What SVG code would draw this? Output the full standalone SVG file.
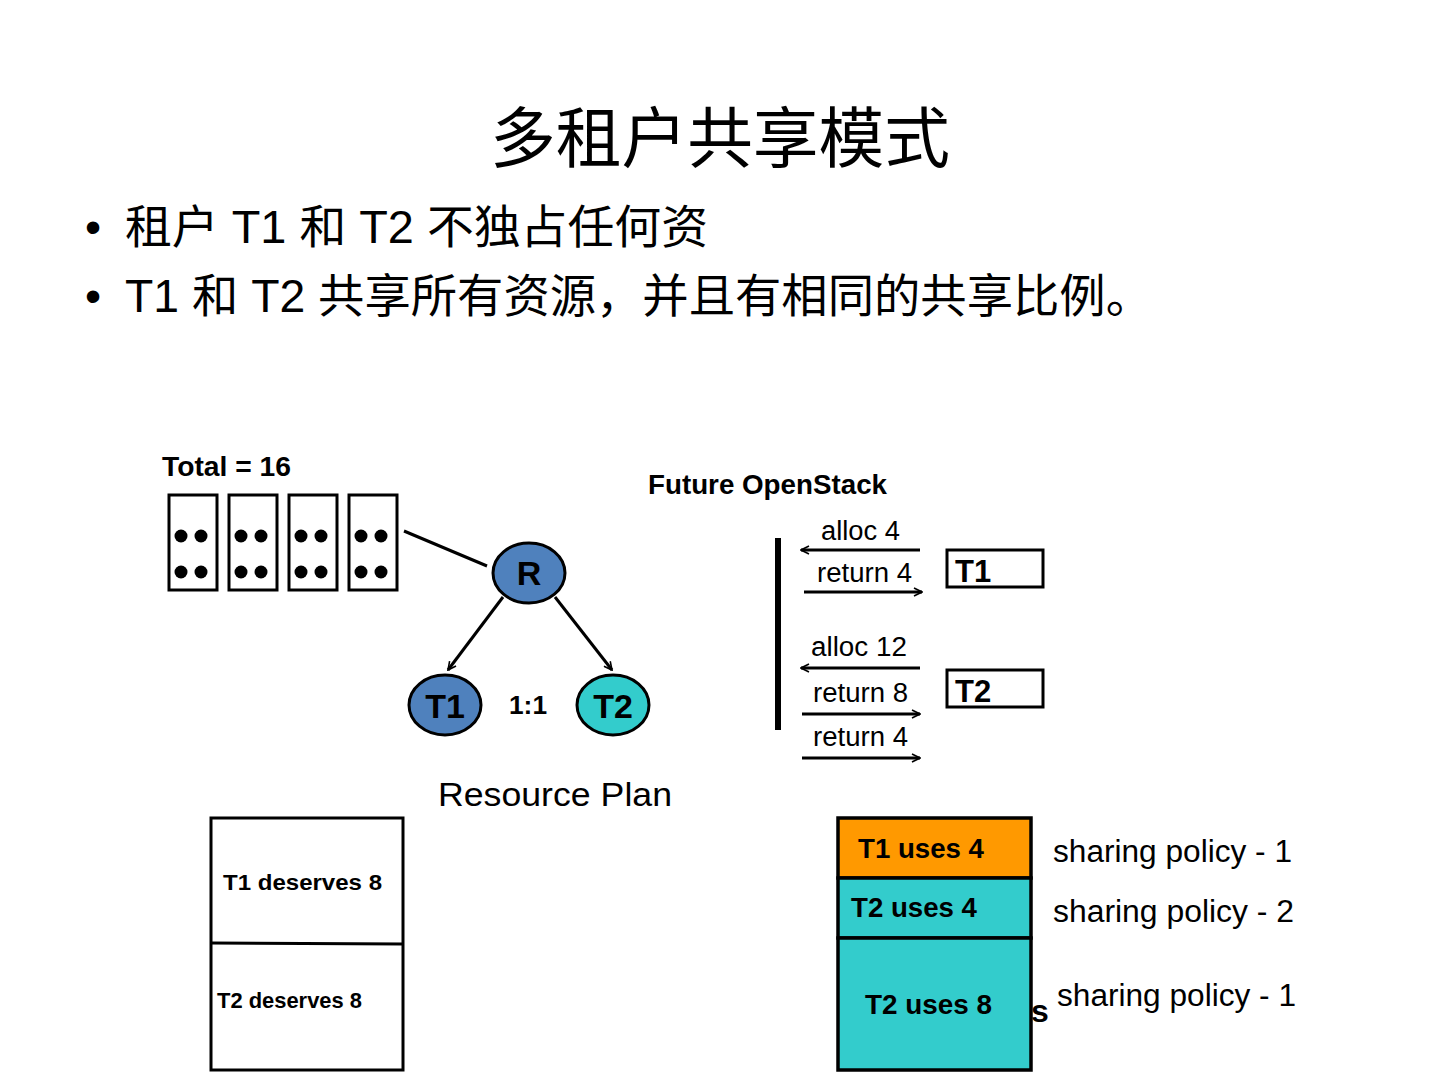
<svg xmlns="http://www.w3.org/2000/svg" width="1440" height="1080" viewBox="0 0 1440 1080">
<defs>
<style>
text{font-family:"Liberation Sans","Noto Sans CJK SC",Arial,sans-serif;fill:#000}
.cjk{font-family:"Liberation Sans","Noto Sans CJK SC",sans-serif}
.b{font-weight:bold}
.box{fill:#fff;stroke:#000;stroke-width:3}
.ln{stroke:#000;stroke-width:3;fill:none}
.dot{fill:#000}
</style>
<marker id="ah" viewBox="0 0 10 10" refX="9" refY="5" markerWidth="10" markerHeight="10" markerUnits="userSpaceOnUse" orient="auto">
<path d="M1,1 L9,5 L1,9" fill="none" stroke="#000" stroke-width="1.6"/>
</marker>
</defs>
<rect width="1440" height="1080" fill="#fff"/>
<text class="cjk" x="490" y="162" font-size="66" textLength="460" lengthAdjust="spacingAndGlyphs">多租户共享模式</text>
<text class="cjk" x="85" y="243" font-size="46">•</text>
<text class="cjk" x="125" y="243" font-size="46" textLength="583" lengthAdjust="spacingAndGlyphs">租户 T1 和 T2 不独占任何资</text>
<text class="cjk" x="85" y="312" font-size="46">•</text>
<text class="cjk" x="125" y="312" font-size="46" textLength="1027" lengthAdjust="spacingAndGlyphs">T1 和 T2 共享所有资源，并且有相同的共享比例。</text>

<text class="b" x="162" y="476" font-size="27" textLength="129" lengthAdjust="spacingAndGlyphs">Total = 16</text>
<g id="hosts">
<rect class="box" x="169" y="495" width="48" height="95"/>
<rect class="box" x="229" y="495" width="48" height="95"/>
<rect class="box" x="289" y="495" width="48" height="95"/>
<rect class="box" x="349" y="495" width="48" height="95"/>
<g class="dot">
<circle cx="181" cy="536" r="6.5"/><circle cx="201" cy="536" r="6.5"/><circle cx="181" cy="572" r="6.5"/><circle cx="201" cy="572" r="6.5"/>
<circle cx="241" cy="536" r="6.5"/><circle cx="261" cy="536" r="6.5"/><circle cx="241" cy="572" r="6.5"/><circle cx="261" cy="572" r="6.5"/>
<circle cx="301" cy="536" r="6.5"/><circle cx="321" cy="536" r="6.5"/><circle cx="301" cy="572" r="6.5"/><circle cx="321" cy="572" r="6.5"/>
<circle cx="361" cy="536" r="6.5"/><circle cx="381" cy="536" r="6.5"/><circle cx="361" cy="572" r="6.5"/><circle cx="381" cy="572" r="6.5"/>
</g>
</g>

<g id="connectors">
<line class="ln" x1="404" y1="531" x2="487" y2="566"/>
<line class="ln" x1="503" y1="597" x2="448" y2="670" marker-end="url(#ah)"/>
<line class="ln" x1="555" y1="597" x2="612" y2="670" marker-end="url(#ah)"/>
<line x1="778" y1="538" x2="778" y2="730" stroke="#000" stroke-width="6"/>
<line class="ln" x1="920" y1="550" x2="801" y2="550" marker-end="url(#ah)"/>
<line class="ln" x1="804" y1="592" x2="922" y2="592" marker-end="url(#ah)"/>
<line class="ln" x1="920" y1="668" x2="801" y2="668" marker-end="url(#ah)"/>
<line class="ln" x1="802" y1="714" x2="920" y2="714" marker-end="url(#ah)"/>
<line class="ln" x1="802" y1="758" x2="920" y2="758" marker-end="url(#ah)"/>
</g>

<g id="R">
<ellipse cx="529" cy="573" rx="36" ry="30" fill="#4f81bd" stroke="#000" stroke-width="3"/>
<text class="b" x="529" y="585" font-size="34" text-anchor="middle">R</text>
</g>
<g id="T1">
<ellipse cx="445" cy="705" rx="36" ry="30" fill="#4f81bd" stroke="#000" stroke-width="3"/>
<text class="b" x="445" y="718" font-size="34" text-anchor="middle">T1</text>
</g>
<g id="T2">
<ellipse cx="613" cy="705" rx="36" ry="30" fill="#33cccc" stroke="#000" stroke-width="3"/>
<text class="b" x="613" y="718" font-size="34" text-anchor="middle">T2</text>
</g>
<text class="b" x="509" y="714" font-size="26" textLength="38" lengthAdjust="spacingAndGlyphs">1:1</text>
<text x="438" y="806" font-size="34" textLength="234" lengthAdjust="spacingAndGlyphs">Resource Plan</text>

<text class="b" x="648" y="494" font-size="27" textLength="239" lengthAdjust="spacingAndGlyphs">Future OpenStack</text>
<text x="821" y="540" font-size="27" textLength="79" lengthAdjust="spacingAndGlyphs">alloc 4</text>
<text x="817" y="582" font-size="27" textLength="95" lengthAdjust="spacingAndGlyphs">return 4</text>
<text x="811" y="656" font-size="27" textLength="96" lengthAdjust="spacingAndGlyphs">alloc 12</text>
<text x="813" y="702" font-size="27" textLength="95" lengthAdjust="spacingAndGlyphs">return 8</text>
<text x="813" y="746" font-size="27" textLength="95" lengthAdjust="spacingAndGlyphs">return 4</text>
<g id="boxT1">
<rect class="box" x="947" y="550" width="96" height="37"/>
<text class="b" x="955" y="582" font-size="31">T1</text>
</g>
<g id="boxT2">
<rect class="box" x="947" y="670" width="96" height="37"/>
<text class="b" x="955" y="702" font-size="31">T2</text>
</g>

<g id="plan">
<rect class="box" x="211" y="818" width="192" height="252"/>
<line class="ln" x1="211" y1="943" x2="403" y2="944"/>
<text class="b" x="223" y="890" font-size="22" textLength="159" lengthAdjust="spacingAndGlyphs">T1 deserves 8</text>
<text class="b" x="217" y="1008" font-size="22" textLength="145" lengthAdjust="spacingAndGlyphs">T2 deserves 8</text>
</g>

<g id="usage">
<rect x="838" y="818" width="193" height="60" fill="#ff9900" stroke="#000" stroke-width="3.5"/>
<rect x="838" y="878" width="193" height="60" fill="#33cccc" stroke="#000" stroke-width="3.5"/>
<rect x="838" y="938" width="193" height="132" fill="#33cccc" stroke="#000" stroke-width="3.5"/>
<text class="b" x="858" y="858" font-size="27" textLength="126" lengthAdjust="spacingAndGlyphs">T1 uses 4</text>
<text class="b" x="851" y="917" font-size="27" textLength="126" lengthAdjust="spacingAndGlyphs">T2 uses 4</text>
<text class="b" x="865" y="1014" font-size="27" textLength="127" lengthAdjust="spacingAndGlyphs">T2 uses 8</text>
<text class="b" x="1031" y="1022" font-size="32">s</text>
</g>
<text x="1053" y="862" font-size="31" textLength="239" lengthAdjust="spacingAndGlyphs">sharing policy - 1</text>
<text x="1053" y="922" font-size="31" textLength="241" lengthAdjust="spacingAndGlyphs">sharing policy - 2</text>
<text x="1057" y="1006" font-size="31" textLength="239" lengthAdjust="spacingAndGlyphs">sharing policy - 1</text>
</svg>
